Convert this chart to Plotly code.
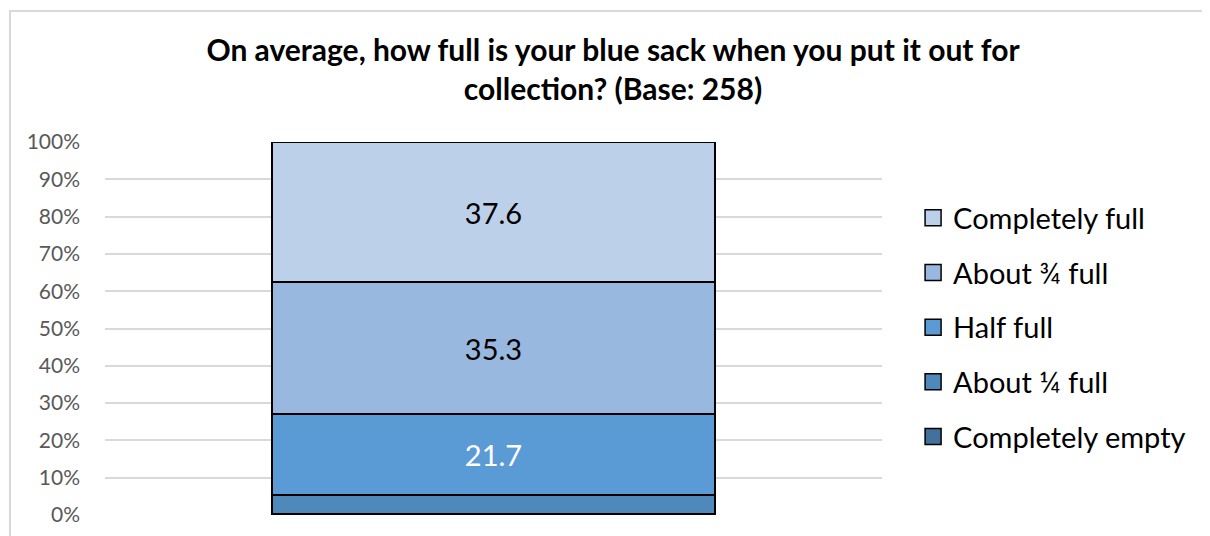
import plotly.graph_objects as go

# survey answers, bottom to top of the stacked bar
categories = ["Completely empty", "About ¼ full", "Half full", "About ¾ full", "Completely full"]
values = [0.4, 5.0, 21.7, 35.3, 37.6]
labels = ["", "", "21.7", "35.3", "37.6"]
colors = ["#41719c", "#4f88bb", "#5b9bd5", "#98b8df", "#bdd0e9"]
label_colors = ["white", "white", "white", "black", "black"]
x_cat = [""]

fig = go.Figure()
for i, name in enumerate(categories):
    fig.add_trace(go.Bar(
        x=x_cat, y=[values[i]], name=name, showlegend=False,
        marker=dict(color=colors[i], line=dict(color="black", width=2)),
        text=[labels[i]], textposition="inside", insidetextanchor="middle",
        textfont=dict(size=29, color=label_colors[i], family="Lato"),
        width=0.57,
    ))

# legend entries (square swatches, top item = top segment)
for i in reversed(range(len(categories))):
    fig.add_trace(go.Scatter(
        x=[None], y=[None], mode="markers", name=categories[i],
        marker=dict(symbol="square", size=16, color=colors[i],
                    line=dict(color="black", width=1.5)),
        legendgroup=categories[i],
    ))

fig.update_layout(
    barmode="stack",
    width=1210, height=536,
    paper_bgcolor="white", plot_bgcolor="white",
    margin=dict(l=97, r=336, t=134, b=29),
    font=dict(family="Lato", color="#595959"),
    title=dict(
        text="<b>On average, how full is your blue sack when you put it out for<br>collection? (Base: 258)</b>",
        x=0.5, xanchor="center", y=0.902, yanchor="middle",
        font=dict(size=30, color="black", family="Lato"),
    ),
    xaxis=dict(range=[-0.5, 0.5], showticklabels=False, showgrid=False, zeroline=False),
    yaxis=dict(range=[0, 100], dtick=10, ticksuffix="%", gridcolor="#d9d9d9",
               gridwidth=1.5, zeroline=False, tickfont=dict(size=21, color="#595959"),
               ticklabelstandoff=24),
    legend=dict(
        x=1.04, xanchor="left", y=0.503, yanchor="middle",
        traceorder="grouped", tracegroupgap=14,
        font=dict(size=29, color="black", family="Lato"),
    ),
)

# light frame around the whole chart
fig.add_shape(type="rect", xref="paper", yref="paper",
              x0=-0.1223, x1=1.6, y0=-0.3, y1=1.351,
              line=dict(color="#d9d9d9", width=2), fillcolor="rgba(0,0,0,0)")

fig.write_html("out.html")
